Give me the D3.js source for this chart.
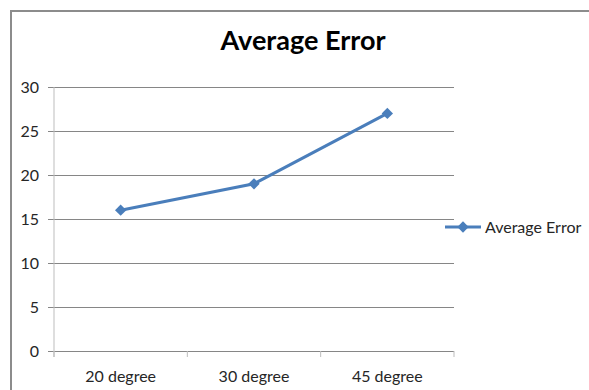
<!DOCTYPE html>
<html lang="en">
<head>
    <meta charset="UTF-8">
    <title>Average Error</title>
    <script src="https://d3js.org/d3.v7.min.js"></script>
    <style>
        body {margin: 0; background: white;}
        text {font-family: Lato, "Open Sans", sans-serif; fill: #262626;}
    </style>
</head>
<body>
<script>
    const width = 589;
    const height = 390;

    const categories = ["20 degree", "30 degree", "45 degree"];
    const errors = [16, 19, 27];
    const yTicks = [0, 5, 10, 15, 20, 25, 30];
    const seriesName = "Average Error";

    const svg = d3.select("body").append("svg")
            .attr("width", width).attr("height", height);

    // outer chart frame, runs off the right and bottom edges
    svg.append("rect")
            .attr("x", 11).attr("y", 11)
            .attr("width", 620).attr("height", 420)
            .style("fill", "white")
            .style("stroke", "#8c8c8c")
            .style("stroke-width", 2);

    svg.append("text")
            .attr("x", 303).attr("y", 50)
            .attr("text-anchor", "middle")
            .style("font-size", "27px")
            .style("font-weight", "bold")
            .style("fill", "black")
            .text(seriesName);

    const x = d3.scaleBand().domain(categories).range([54, 454]);
    const y = d3.scaleLinear().domain([0, 30]).range([351, 87]);

    // gridlines + y ticks
    const yAxis = svg.append("g").attr("transform", "translate(54,0)")
            .call(d3.axisLeft(y).tickValues(yTicks).tickSize(6).tickPadding(9));
    yAxis.select(".domain").remove();
    yAxis.selectAll(".tick line").style("stroke", "#868686");
    yAxis.selectAll(".tick").append("line")
            .attr("x1", 0).attr("x2", 400)
            .style("stroke", "#868686");
    yAxis.selectAll("text")
            .style("font-size", "16px")
            .style("font-family", "Lato, sans-serif")
            .style("fill", "#262626");

    // vertical axis line
    svg.append("line")
            .attr("x1", 54).attr("x2", 54)
            .attr("y1", y(30)).attr("y2", y(0) + 6)
            .style("stroke", "#bdbdbd");

    // category ticks at band edges
    const edges = categories.map(c => x(c)).concat([x.range()[1]]);
    svg.selectAll("line.ctick")
            .data(edges)
            .enter().append("line")
            .attr("class", "ctick")
            .attr("x1", d => d).attr("x2", d => d)
            .attr("y1", y(0)).attr("y2", y(0) + 6)
            .style("stroke", "#bdbdbd");

    svg.selectAll("text.cat")
            .data(categories)
            .enter().append("text")
            .attr("class", "cat")
            .attr("x", d => x(d) + x.bandwidth() / 2)
            .attr("y", 382)
            .attr("text-anchor", "middle")
            .style("font-size", "16px")
            .text(d => d);

    const pts = categories.map((c, i) => [x(c) + x.bandwidth() / 2, y(errors[i])]);

    svg.append("path")
            .datum(pts)
            .attr("d", d3.line())
            .style("fill", "none")
            .style("stroke", "#4a7ebb")
            .style("stroke-width", 3);

    const diamond = d3.symbol().type(d3.symbolSquare).size(64);

    svg.selectAll("path.marker")
            .data(pts)
            .enter().append("path")
            .attr("class", "marker")
            .attr("d", diamond)
            .attr("transform", d => `translate(${d}) rotate(45)`)
            .style("fill", "#4a7ebb");

    // legend
    const legend = svg.append("g").attr("transform", "translate(445,227)");
    legend.append("line")
            .attr("x1", 0).attr("x2", 36)
            .style("stroke", "#4a7ebb")
            .style("stroke-width", 3);
    legend.append("path")
            .attr("d", diamond)
            .attr("transform", "translate(18,0) rotate(45)")
            .style("fill", "#4a7ebb");
    legend.append("text")
            .attr("x", 40).attr("y", 6)
            .style("font-size", "16px")
            .text(seriesName);
</script>
</body>
</html>
